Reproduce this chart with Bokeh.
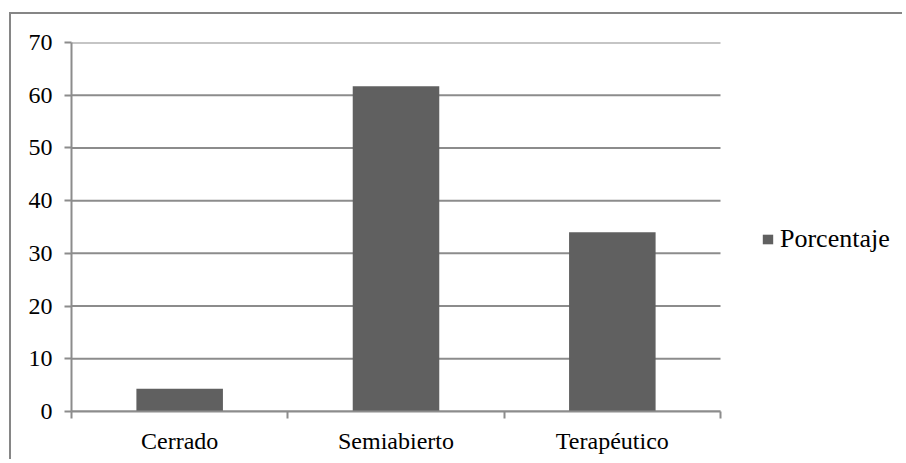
from bokeh.plotting import figure
from bokeh.models import Range1d, FixedTicker, Legend, LegendItem, ColumnDataSource
from bokeh.embed import file_html
from bokeh.resources import INLINE

# Distribution by prison regime (percent)
categories = ["Cerrado", "Semiabierto", "Terapéutico"]
porcentaje = [4.3, 61.7, 34.0]
y_ticks = [0, 10, 20, 30, 40, 50, 60, 70]
series_name = "Porcentaje"

FONT = "'Liberation Serif', 'Times New Roman', serif"
GRID = "#8c8c8c"
BAR = "#606060"
FRAME = "#868686"

# the chart area starts 11px in from the page's left edge and 14px from its top
OX, OY = 11, 14
W, H = 904, 461
PLOT_L, PLOT_R = 71, 720          # page x of the category axis ends

n = len(categories)
centers = [i + 0.5 for i in range(n)]
src = ColumnDataSource(dict(x=centers, top=porcentaje, cat=categories))

# the frame runs on to the right edge so the legend can sit beside the bars
x_end = n * (W - PLOT_L) / (PLOT_R - PLOT_L)

p = figure(width=W - OX, height=H - OY, output_backend="svg", toolbar_location=None,
           x_range=Range1d(0, x_end), y_range=Range1d(0, 70),
           min_border_left=PLOT_L - OX, min_border_right=0,
           min_border_top=42 - OY, min_border_bottom=H - 411)
p.outline_line_color = None
p.background_fill_color = "white"
p.border_fill_color = "white"
# chart-area frame: only its left and top edges fall on the page
p.styles = {"margin-left": f"{OX}px", "margin-top": f"{OY}px",
            "box-shadow": f"-2px -2px 0 0 {FRAME}"}

# horizontal gridlines limited to the category span
p.xgrid.grid_line_color = None
p.ygrid.grid_line_color = None
p.segment(x0=[0] * len(y_ticks), x1=[n] * len(y_ticks), y0=y_ticks, y1=y_ticks,
          line_color=GRID, line_width=2)

r = p.vbar(x="x", top="top", width=0.4, source=src, fill_color=BAR, line_color=None)

# y axis: outward ticks, serif labels
ya = p.yaxis[0]
ya.ticker = FixedTicker(ticks=y_ticks)
ya.axis_line_color = GRID
ya.axis_line_width = 2
ya.major_tick_line_color = GRID
ya.major_tick_line_width = 2
ya.major_tick_in = 0
ya.major_tick_out = 7
ya.minor_tick_line_color = None
ya.major_label_text_font = FONT
ya.major_label_text_font_size = "24px"
ya.major_label_text_color = "black"
ya.major_label_standoff = 12

# x axis: labels at category centres, ticks on the category boundaries
xa = p.xaxis[0]
xa.bounds = (0, n)
xa.ticker = FixedTicker(ticks=centers, minor_ticks=list(range(n + 1)))
xa.major_label_overrides = {c: name for c, name in zip(centers, categories)}
xa.axis_line_color = GRID
xa.axis_line_width = 2
xa.major_tick_line_color = None
xa.major_tick_in = 0
xa.major_tick_out = 0
xa.minor_tick_line_color = GRID
xa.minor_tick_line_width = 2
xa.minor_tick_in = 0
xa.minor_tick_out = 7
xa.major_label_text_font = FONT
xa.major_label_text_font_size = "24px"
xa.major_label_text_color = "black"
xa.major_label_standoff = 9

legend = Legend(items=[LegendItem(label=series_name, renderers=[r])],
                location=(761 - PLOT_L, 157), orientation="vertical",
                padding=0, margin=0, border_line_color=None,
                background_fill_alpha=0,
                glyph_width=13, glyph_height=12, label_standoff=6,
                label_height=26,
                label_text_font=FONT, label_text_font_size="26px",
                label_text_color="black")
p.add_layout(legend, "center")

open("out.html", "w").write(file_html(p, INLINE))
